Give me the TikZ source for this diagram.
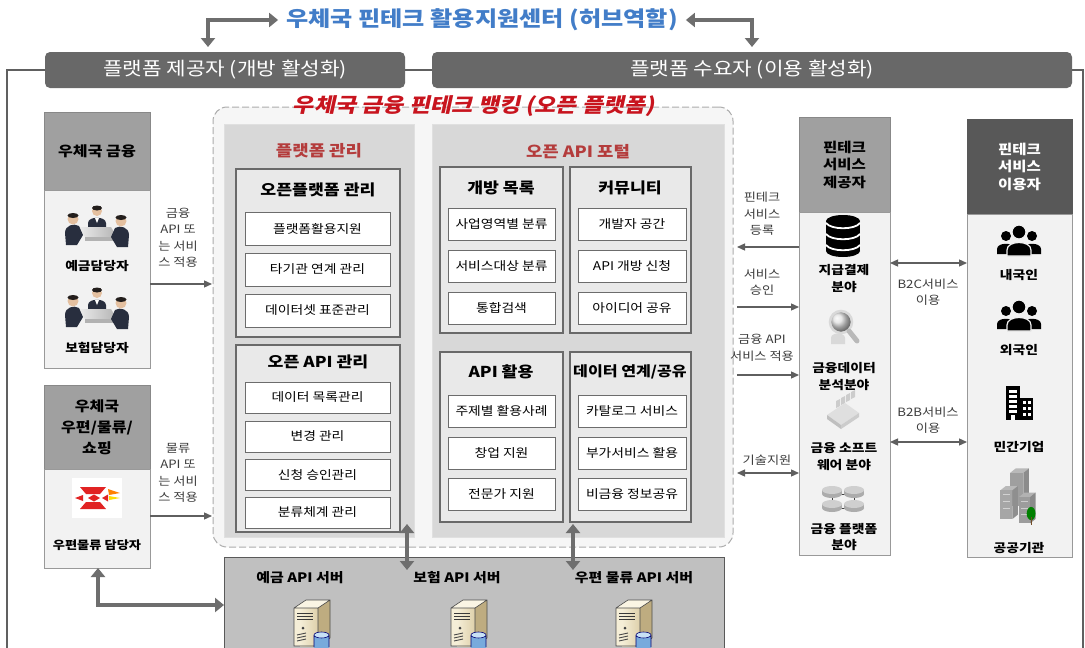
\documentclass[tikz,border=0pt]{standalone}
\usepackage{fontspec}
\setmainfont{Noto Sans CJK KR}[FakeStretch=1.15]
\newfontfamily\slantkr{Noto Sans CJK KR}[FakeStretch=1.15,FakeSlant=0.22]
\usetikzlibrary{arrows.meta,calc,shadings}
\newcommand\fs[2]{\fontsize{#1}{#2}\selectfont}

\definecolor{hubblue}{RGB}{66,125,200}
\definecolor{bandark}{RGB}{104,104,104}
\definecolor{hdrgray}{RGB}{160,160,160}
\definecolor{hdrdark}{RGB}{88,88,88}
\definecolor{bodygray}{RGB}{242,242,242}
\definecolor{panelgray}{RGB}{216,216,216}
\definecolor{groupgray}{RGB}{233,233,233}
\definecolor{edgegray}{RGB}{105,105,105}
\definecolor{redtitle}{RGB}{200,20,30}
\definecolor{paneltitle}{RGB}{180,60,60}
\definecolor{arrowgray}{RGB}{95,95,95}
\definecolor{bigarrow}{RGB}{110,110,110}
\definecolor{svband}{RGB}{192,192,192}
\definecolor{labeltext}{RGB}{60,60,60}
\definecolor{suit}{RGB}{40,46,62}
\definecolor{skin}{RGB}{228,192,160}
\definecolor{hair}{RGB}{35,30,28}
\definecolor{postred}{RGB}{225,35,35}
\definecolor{srvlight}{RGB}{245,238,215}
\definecolor{srvmid}{RGB}{222,208,170}
\definecolor{srvside}{RGB}{190,172,128}
\definecolor{srvtop}{RGB}{250,245,228}
\definecolor{dbblue}{RGB}{120,170,220}
\definecolor{dbtop}{RGB}{200,225,245}

\tikzset{
  meeting/.pic={
    \fill[suit] (-9,9) -- (-9,-1) .. controls (-9,-8) and (9,-8) .. (9,-1) -- (9,9) -- cycle;
    \fill[white] (-2,-6) -- (2,-6) -- (0,-1) -- cycle;
    \fill[skin] (0,-13) circle (5);
    \fill[hair] (0,-16) ellipse [x radius=5, y radius=2.5];
    \shade[left color=gray!15, right color=gray!60] (-18,3) -- (14,3) -- (20,13) -- (-12,13) -- cycle;
    \fill[gray!60] (-12,13) -- (20,13) -- (20,17) -- (-12,17) -- cycle;
    \fill[suit] (-31,21) -- (-32,9) .. controls (-32,1) and (-23,-1) .. (-18,2) -- (-14,11) -- (-20,21) -- cycle;
    \fill[skin] (-24,-5) circle (5.5);
    \fill[hair] (-24,-8.5) ellipse [x radius=5.5, y radius=2.5];
    \fill[suit] (31,23) -- (32,11) .. controls (32,3) and (23,1) .. (18,4) -- (14,13) -- (20,23) -- cycle;
    \fill[skin] (24,-3) circle (5.5);
    \fill[hair] (24,-6.5) ellipse [x radius=5.5, y radius=2.5];
  },
  postlogo/.pic={
    \fill[white] (-25,-20) rectangle (25,20);
    \fill[postred] (-17,-11) -- (9,-11) -- (3,-4) -- (-11,-4) -- cycle;
    \fill[postred] (-17,11) -- (9,11) -- (3,4) -- (-11,4) -- cycle;
    \fill[postred] (-22,0) -- (-14,-3) -- (-14,3) -- cycle;
    \fill[postred] (-9,0) -- (-3,-3.5) -- (3,0) -- (-3,3.5) -- cycle;
    \fill[postred] (5,0) -- (11,-3.5) -- (11,3.5) -- cycle;
    \fill[orange] (11,-9) -- (23,-5) -- (12,-3) -- cycle;
    \fill[yellow!80!orange] (12,-2) -- (23,0) -- (12,2) -- cycle;
  },
  server/.pic={
    \fill[srvtop] (-18,-14) -- (-6,-22) -- (18,-22) -- (6,-14) -- cycle;
    \fill[srvlight] (-18,-14) rectangle (6,24);
    \shade[left color=srvlight, right color=srvmid] (-12,-14) rectangle (6,24);
    \fill[srvside] (6,-14) -- (18,-22) -- (18,16) -- (6,24) -- cycle;
    \draw[gray!60!black, line width=0.6] (-18,-14) -- (-6,-22) -- (18,-22) -- (18,16) -- (6,24) -- (-18,24) -- cycle (6,-14) -- (6,24) (-18,-14) -- (6,-14) -- (18,-22);
    \foreach \yy in {-9,-6,-3} \draw[gray!45!black, line width=1] (-15,\yy) -- (1,\yy);
    \fill[gray!50!black] (-9,6) circle (1.5);
    \foreach \yy in {13,16,19} \draw[gray!55!black, line width=0.9] (-15,\yy) -- (-6,\yy-2);
    \fill[dbblue] (2,13) rectangle (17,25);
    \fill[dbblue] (9.5,25) ellipse [x radius=7.5, y radius=3];
    \fill[dbtop] (9.5,13) ellipse [x radius=7.5, y radius=3];
    \draw[blue!45!black, line width=0.6] (2,13) -- (2,25) (17,13) -- (17,25) (9.5,13) ellipse [x radius=7.5, y radius=3];
  },
  dbstack/.pic={
    \fill (-17,-15) rectangle (17,15);
    \fill (0,15) ellipse [x radius=17, y radius=6];
    \fill (0,-15) ellipse [x radius=17, y radius=6];
    \draw[white, line width=1.8] (-17,-13) .. controls (-12,-6) and (12,-6) .. (17,-13);
    \draw[white, line width=1.8] (-17,-2) .. controls (-12,5) and (12,5) .. (17,-2);
    \draw[white, line width=1.8] (-17,9) .. controls (-12,16) and (12,16) .. (17,9);
  },
  magnifier/.pic={
    \fill[gray!30] (-12,16) -- (-12,10) .. controls (-12,4) and (2,4) .. (2,10) -- (2,16) -- cycle;
    \shade[ball color=gray!25] (-2,-6) circle (11);
    \draw[gray!30, line width=2.5] (-2,-6) circle (11);
    \draw[gray!55, line width=5, line cap=round] (6,3) -- (14,13);
  },
  software/.pic={
    \foreach \i in {0,...,3} \fill[gray!40] (-7+5*\i,-5-3*\i) -- (-3+5*\i,-7-3*\i) -- (-3+5*\i,-14-3*\i) -- (-7+5*\i,-12-3*\i) -- cycle;
    \fill[gray!25] (-16,2) -- (2,-10) -- (16,0) -- (-2,12) -- cycle;
    \fill[gray!50] (-16,2) -- (-2,12) -- (-2,16) -- (-16,6) -- cycle;
    \fill[gray!40] (-2,12) -- (16,0) -- (16,4) -- (-2,16) -- cycle;
  },
  discs/.pic={
    \draw[gray!50!black, line width=0.8] (-11,-5) -- (11,-5) (-11,9) -- (11,9) (-11,-3) -- (-11,7) (11,-3) -- (11,7);
    \foreach \px/\py in {-11/-9, 11/-9, -11/5, 11/5} {
      \fill[gray!65] (\px-10,\py) rectangle (\px+10,\py+4);
      \fill[gray!65] (\px,\py+4) ellipse [x radius=10, y radius=4];
      \fill[gray!38] (\px,\py) ellipse [x radius=10, y radius=4];
    }
  },
  people/.pic={
    \foreach \sx in {-13,13} {
      \fill (\sx,-5) circle (5);
      \fill (\sx-9,13) -- (\sx-9,8) .. controls (\sx-9,1) and (\sx+9,1) .. (\sx+9,8) -- (\sx+9,13) -- cycle;
    }
    \filldraw[draw=bodygray, line width=1.2] (-12,15) -- (-12,9) .. controls (-12,-1) and (12,-1) .. (12,9) -- (12,15) -- cycle;
    \filldraw[draw=bodygray, line width=1.2] (0,-9) circle (7);
  },
  building/.pic={
    \fill (-13,-17) rectangle (1,17);
    \foreach \yy in {-13,-8,-3,2,7} \fill[white] (-10,\yy) rectangle (-2,\yy+2.5);
    \fill[white] (-8,12) rectangle (-4,17);
    \fill (1,-5) rectangle (14,17);
    \foreach \xx in {3.5,8.5} \foreach \yy in {-2,4,10} \fill[white] (\xx,\yy) rectangle (\xx+3,\yy+3);
  },
  govbldg/.pic={
    \fill[gray!55] (-8,-22) -- (-3,-26) -- (9,-26) -- (4,-22) -- cycle;
    \fill[gray!75] (-8,-22) rectangle (4,8);
    \fill[gray!90] (4,-22) -- (9,-26) -- (9,4) -- (4,8) -- cycle;
    \fill[gray!55] (-17,-6) -- (-12,-10) -- (-1,-10) -- (-6,-6) -- cycle;
    \fill[gray!70] (-17,-6) rectangle (-6,20);
    \fill[gray!88] (-6,-6) -- (-1,-10) -- (-1,16) -- (-6,20) -- cycle;
    \fill[gray!60] (0,0) -- (5,-4) -- (15,-4) -- (10,0) -- cycle;
    \fill[gray!78] (0,0) rectangle (10,24);
    \fill[gray!92] (10,0) -- (15,-4) -- (15,20) -- (10,24) -- cycle;
    \foreach \yy in {-2,4,10} \draw[gray!35, line width=0.7] (-15,\yy) -- (-8,\yy);
    \foreach \yy in {4,10,16} \draw[gray!40, line width=0.7] (2,\yy) -- (8,\yy);
    \fill[green!50!black] (11,15) ellipse [x radius=4, y radius=6];
    \draw[brown!60!black, line width=1] (11,18) -- (11,25);
  }
}

\begin{document}
\begin{tikzpicture}[x=1pt,y=-1pt,
  box/.style={anchor=north west, inner sep=0pt, outer sep=0pt},
  banner/.style={box, fill=bandark, rounded corners=5pt, text=white, font=\fs{18.5}{22}},
  hdr/.style={box, fill=hdrgray, draw=hdrgray!85!black, line width=0.8pt, align=center, font=\fs{13.5}{17.5}\bfseries},
  hdrdk/.style={hdr, fill=hdrdark, draw=hdrdark, text=white},
  bodybox/.style={box, fill=bodygray, draw=gray!80, line width=0.8pt},
  panel/.style={box, fill=panelgray, draw=white!88!black, line width=1pt},
  group/.style={box, fill=groupgray, draw=edgegray, line width=1.8pt},
  item/.style={box, fill=white, draw=gray!85!black, line width=1pt, font=\fs{12}{14}},
  gtitle/.style={inner sep=0pt, font=\fs{15}{18}\bfseries},
  ptitle/.style={inner sep=0pt, text=paneltitle, font=\fs{15.5}{18}\bfseries},
  lbl/.style={inner sep=0pt, align=center, text=labeltext, font=\fs{11.5}{16.5}},
  iconlbl/.style={inner sep=0pt, align=center, font=\fs{12}{17}\bfseries},
  svlbl/.style={inner sep=0pt, font=\fs{13}{16}\bfseries},
  frame/.style={draw=gray!75!black, line width=2.4pt},
  arr/.style={draw=arrowgray, line width=1.3pt, -{Triangle[length=8pt,width=7pt]}},
  arrboth/.style={draw=arrowgray, line width=1.3pt, {Triangle[length=8pt,width=7pt]}-{Triangle[length=8pt,width=7pt]}},
  bigarr/.style={draw=bigarrow, line width=4.5pt, {Triangle[length=9pt,width=14pt]}-{Triangle[length=9pt,width=14pt]}}
]
\useasboundingbox (0,0) rectangle (1085,648);
\fill[white] (0,0) rectangle (1085,648);

% hub title and role banners
\node[inner sep=0pt, text=hubblue, font=\fs{21}{25}\bfseries] (title) at (482,20) {우체국 핀테크 활용지원센터 (허브역할)};
\node[banner, minimum width=360, minimum height=36] (banL) at (45,52) {플랫폼 제공자 (개방 활성화)};
\node[banner, minimum width=640, minimum height=36] (banR) at (432,52) {플랫폼 수요자 (이용 활성화)};
\coordinate (hubL) at (208,47);
\coordinate (hubR) at (752,47);
\draw[bigarr] (hubL) |- ([xshift=-8pt]title.west);
\draw[bigarr] ([xshift=8pt]title.east) -| (hubR);

% outer frame
\draw[frame] (banL.west) -- (7,70) -- (7,652);
\draw[frame] (banL.east) -- (banR.west);
\draw[frame] (banR.east) -- (1083,70) -- (1083,652);

% open platform area
\node[box, fill=gray!7, draw=gray!65, dashed, dash pattern=on 7pt off 3pt, line width=1pt, rounded corners=14pt, minimum width=520, minimum height=440] (open) at (213,107) {};
\node[inner sep=0pt, text=redtitle, font=\slantkr\fs{20}{24}\bfseries] (optitle) at (474,106) {우체국 금융 핀테크 뱅킹 (오픈 플랫폼)};

\node[panel, minimum width=190, minimum height=413] (mgmt) at (224,124) {};
\node[panel, minimum width=292, minimum height=413] (portal) at (432,124) {};
\node[ptitle] (mgmtt) at (319,151) {플랫폼 관리};
\node[ptitle] (portalt) at (578,152) {오픈 API 포털};

% platform management groups
\node[group, minimum width=164, minimum height=168] (g1) at (236,169) {};
\node[gtitle] (g1t) at (318,190) {오픈플랫폼 관리};
\node[item, minimum width=145, minimum height=33] (i11) at (245,212) {플랫폼활용지원};
\node[item, minimum width=145, minimum height=33] (i12) at (245,253) {타기관 연계 관리};
\node[item, minimum width=145, minimum height=33] (i13) at (245,294) {데이터셋 표준관리};

\node[group, minimum width=164, minimum height=187] (g2) at (236,345) {};
\node[gtitle] (g2t) at (318,362) {오픈 API 관리};
\node[item, minimum width=145, minimum height=31] (i21) at (245,382) {데이터 목록관리};
\node[item, minimum width=145, minimum height=31] (i22) at (245,421) {변경 관리};
\node[item, minimum width=145, minimum height=31] (i23) at (245,459) {신청 승인관리};
\node[item, minimum width=145, minimum height=31] (i24) at (245,497) {분류체계 관리};

% open API portal groups
\node[group, minimum width=123, minimum height=166] (g3) at (440,167) {};
\node[gtitle] (g3t) at (501,188) {개방 목록};
\node[item, minimum width=107, minimum height=32] (i31) at (448,208) {사업영역별 분류};
\node[item, minimum width=107, minimum height=32] (i32) at (448,250) {서비스대상 분류};
\node[item, minimum width=107, minimum height=32] (i33) at (448,292) {통합검색};

\node[group, minimum width=121, minimum height=166] (g4) at (570,167) {};
\node[gtitle] (g4t) at (630,188) {커뮤니티};
\node[item, minimum width=108, minimum height=32] (i41) at (578,208) {개발자 공간};
\node[item, minimum width=108, minimum height=32] (i42) at (578,250) {API 개방 신청};
\node[item, minimum width=108, minimum height=32] (i43) at (578,292) {아이디어 공유};

\node[group, minimum width=123, minimum height=170] (g5) at (440,352) {};
\node[gtitle] (g5t) at (501,372) {API 활용};
\node[item, minimum width=107, minimum height=32] (i51) at (448,395) {주제별 활용사례};
\node[item, minimum width=107, minimum height=32] (i52) at (448,437) {창업 지원};
\node[item, minimum width=107, minimum height=32] (i53) at (448,478) {전문가 지원};

\node[group, minimum width=121, minimum height=170] (g6) at (570,352) {};
\node[gtitle, font=\fs{14}{18}\bfseries] (g6t) at (630,372) {데이터 연계/공유};
\node[item, minimum width=108, minimum height=32] (i61) at (578,395) {카탈로그 서비스};
\node[item, minimum width=108, minimum height=32] (i62) at (578,437) {부가서비스 활용};
\node[item, minimum width=108, minimum height=32] (i63) at (578,478) {비금융 정보공유};

% API servers
\node[box, fill=svband, draw=gray!70!black, line width=1pt, minimum width=500, minimum height=100] (servers) at (224,557) {};
\node[svlbl] (s1t) at (300,578) {예금 API 서버};
\node[svlbl] (s2t) at (457,578) {보험 API 서버};
\node[svlbl] (s3t) at (634,578) {우편 물류 API 서버};
\pic at (312,622) {server};
\pic at (469,622) {server};
\pic at (634,622) {server};
\coordinate (va1) at (407,524);
\coordinate (vb1) at (407,570);
\coordinate (va2) at (573,524);
\coordinate (vb2) at (573,570);
\draw[bigarr] (va1) -- (vb1);
\draw[bigarr] (va2) -- (vb2);

% postal finance
\node[hdr, font=\fs{14}{18}\bfseries, minimum width=106, minimum height=78] (finh) at (44,112) {우체국 금융};
\node[bodybox, minimum width=106, minimum height=178] (finb) at (44,190) {};
\pic at (97,224) {meeting};
\node[iconlbl] (fin1) at (97,266) {예금담당자};
\pic at (97,306) {meeting};
\node[iconlbl] (fin2) at (97,348) {보험담당자};
\node[lbl] (finl) at (178,238) {금융\\API 또\\는 서비\\스 적용};
\coordinate (fa) at (212,284);
\draw[arr] (finb.east |- fa) -- (fa);

% postal logistics
\node[hdr, font=\fs{14}{21}\bfseries, minimum width=106, minimum height=84] (posth) at (44,385) {우체국\\우편/물류/\\쇼핑};
\node[bodybox, minimum width=106, minimum height=99] (postb) at (44,469) {};
\pic at (97,498) {postlogo};
\node[iconlbl, font=\fs{11.5}{16}\bfseries] (post1) at (97,545) {우편물류 담당자};
\node[lbl] (postl) at (178,473) {물류\\API 또\\는 서비\\스 적용};
\coordinate (pa) at (212,516);
\draw[arr] (postb.east |- pa) -- (pa);
\coordinate (pbase) at (98,605);
\draw[bigarr] (postb.south -| pbase) |- (servers.west |- pbase);

% fintech service providers
\node[hdr, minimum width=91, minimum height=95] (provh) at (799,117) {핀테크\\서비스\\제공자};
\node[bodybox, minimum width=91, minimum height=343] (provb) at (799,212) {};
\pic at (843,236) {dbstack};
\node[iconlbl] (pv1) at (844,279) {지급결제\\분야};
\pic at (843,328) {magnifier};
\node[iconlbl] (pv2) at (844,376) {금융데이터\\분석분야};
\pic at (843,413) {software};
\node[iconlbl] (pv3) at (844,457) {금융 소프트\\웨어 분야};
\pic at (843,499) {discs};
\node[iconlbl] (pv4) at (844,537) {금융 플랫폼\\분야};

\node[lbl] (r1t) at (762,214) {핀테크\\서비스\\등록};
\node[lbl] (r2t) at (762,282) {서비스\\승인};
\node[lbl] (r3t) at (762,348) {금융 API\\서비스 적용};
\node[lbl] (r4t) at (767,460) {기술지원};
\coordinate (c1) at (737,247);
\coordinate (c2) at (737,307);
\coordinate (c3) at (737,375);
\coordinate (c4) at (737,473);
\draw[arr] (provb.west |- c1) -- (c1);
\draw[arr] (c2) -- (provb.west |- c2);
\draw[arr] (c3) -- (provb.west |- c3);
\draw[arrboth] (c4) -- (provb.west |- c4);

% fintech service users
\node[hdrdk, minimum width=105, minimum height=95] (userh) at (967,119) {핀테크\\서비스\\이용자};
\node[bodybox, minimum width=105, minimum height=343] (userb) at (967,214) {};
\pic at (1019,241) {people};
\node[iconlbl] (u1) at (1019,275) {내국인};
\pic at (1019,316) {people};
\node[iconlbl] (u2) at (1019,350) {외국인};
\pic at (1019,403) {building};
\node[iconlbl] (u3) at (1019,447) {민간기업};
\pic[scale=1.1] at (1019,497) {govbldg};
\node[iconlbl] (u4) at (1019,548) {공공기관};

\coordinate (c5) at (928,263);
\coordinate (c6) at (928,442);
\draw[arrboth] (provb.east |- c5) -- (userb.west |- c5);
\draw[arrboth] (provb.east |- c6) -- (userb.west |- c6);
\node[lbl] (b2c) at (928,292) {B2C서비스\\이용};
\node[lbl] (b2b) at (928,420) {B2B서비스\\이용};
\end{tikzpicture}
\end{document}
